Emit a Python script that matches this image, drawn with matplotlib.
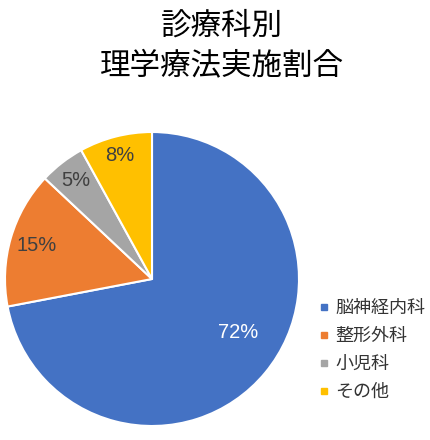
import matplotlib
matplotlib.use("Agg")
import matplotlib.pyplot as plt
from matplotlib.lines import Line2D
import numpy as np

plt.rcParams["font.family"] = ["Noto Sans CJK JP", "DejaVu Sans"]

TITLE = "診療科別\n理学療法実施割合"
departments = ["脳神経内科", "整形外科", "小児科", "その他"]
shares = [72, 15, 5, 8]
colors = ["#4472C4", "#ED7D31", "#A5A5A5", "#FFC000"]
label_colors = ["white", "#404040", "#404040", "#404040"]
label_radius = [0.69, 0.82, 0.85, 0.87]

W, H = 430, 440
fig = plt.figure(figsize=(W / 100, H / 100), dpi=100)
ax = fig.add_axes([5 / W, 14 / H, 294 / W, 294 / H])

wedges, _ = ax.pie(shares, colors=colors, startangle=90, counterclock=False,
                   radius=1.0, wedgeprops=dict(edgecolor="white", linewidth=1.5))
ax.set_xlim(-1, 1)
ax.set_ylim(-1, 1)
ax.set_aspect("equal")
ax.axis("off")

total = sum(shares)
for w, v, c, r in zip(wedges, shares, label_colors, label_radius):
    mid = np.deg2rad((w.theta1 + w.theta2) / 2)
    if v == max(shares):
        mid += np.deg2rad(8)  # excel pushes the big label a bit up
    ax.text(r * np.cos(mid), r * np.sin(mid), f"{v / total * 100:.0f}%",
            ha="center", va="center", color=c, fontsize=14.5,
            family=["Liberation Sans", "DejaVu Sans"])

fig.text(222 / W, 1 - 46 / H, TITLE, ha="center", va="center", fontsize=22,
         linespacing=1.4, color="black")

handles = [Line2D([], [], marker="s", ls="", color=c, markersize=5) for c in colors]
fig.legend(handles, departments, loc="center left",
           bbox_to_anchor=(302 / W, 1 - 350 / H), frameon=False,
           fontsize=13, handlelength=0.6, handletextpad=0.35,
           labelspacing=0.55, labelcolor="#333333")

fig.savefig("out.png", dpi=100)
